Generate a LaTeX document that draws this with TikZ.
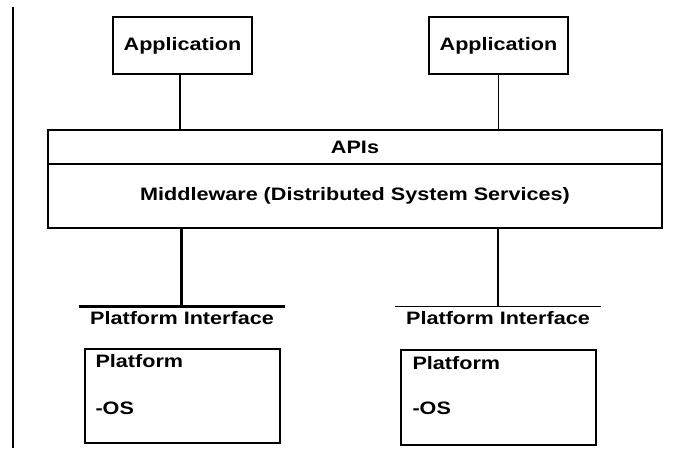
\documentclass[tikz,border=0pt]{standalone}
\usepackage{fontspec}
\setmainfont{Liberation Sans}[FakeStretch=1.2]
\usetikzlibrary{calc}
\begin{document}
\begin{tikzpicture}[x=1pt,y=-1pt,
  every node/.style={font=\fontsize{18}{20}\selectfont\bfseries},
  box/.style={draw,line width=1.3pt,rectangle,inner sep=0pt},
  thin/.style={line width=1.3pt},
  thick/.style={line width=3pt},
  lbl/.style={inner sep=0pt,anchor=base west}]
\useasboundingbox (0,0) rectangle (678,454);
% left border line
\draw[line width=2pt] (12.5,7) -- (12.5,448);
% applications
\node[box,minimum width=139,minimum height=57] (app1) at (182.5,45.5) {Application};
\node[box,minimum width=139,minimum height=57] (app2) at (498.5,45.5) {Application};
% APIs / middleware
\node[box,minimum width=614,minimum height=34] (apis) at (355,147) {APIs};
\node[box,minimum width=614,minimum height=64] (mw) at (355,196) {Middleware (Distributed System Services)};
% platform interfaces
\node[inner sep=0pt,minimum width=206,minimum height=22] (pif1) at (182,318) {Platform Interface};
\node[inner sep=0pt,minimum width=206,minimum height=22] (pif2) at (498,318) {Platform Interface};
\draw[thick] (pif1.north west) -- (pif1.north east);
\draw[thin] (pif2.north west) -- (pif2.north east);
% platforms
\node[box,minimum width=195,minimum height=94] (plat1) at (182.5,396) {};
\node[box,minimum width=195,minimum height=95] (plat2) at (498.5,397.5) {};
\node[lbl] (p1a) at ($(plat1.north west)+(11,19)$) {Platform};
\node[lbl] (p1b) at ($(plat1.north west)+(11,66)$) {-OS};
\node[lbl] (p2a) at ($(plat2.north west)+(12,20)$) {Platform};
\node[lbl] (p2b) at ($(plat2.north west)+(12,65)$) {-OS};
% connectors
\draw[thin] (app1.south -| 180,0) -- (apis.north -| 180,0);
\draw[thin] (app2.south) -- (app2.south |- apis.north);
\draw[thick] (mw.south -| 181,0) -- (pif1.north -| 181,0);
\draw[thin] (mw.south -| pif2.north) -- (pif2.north);
\end{tikzpicture}
\end{document}
